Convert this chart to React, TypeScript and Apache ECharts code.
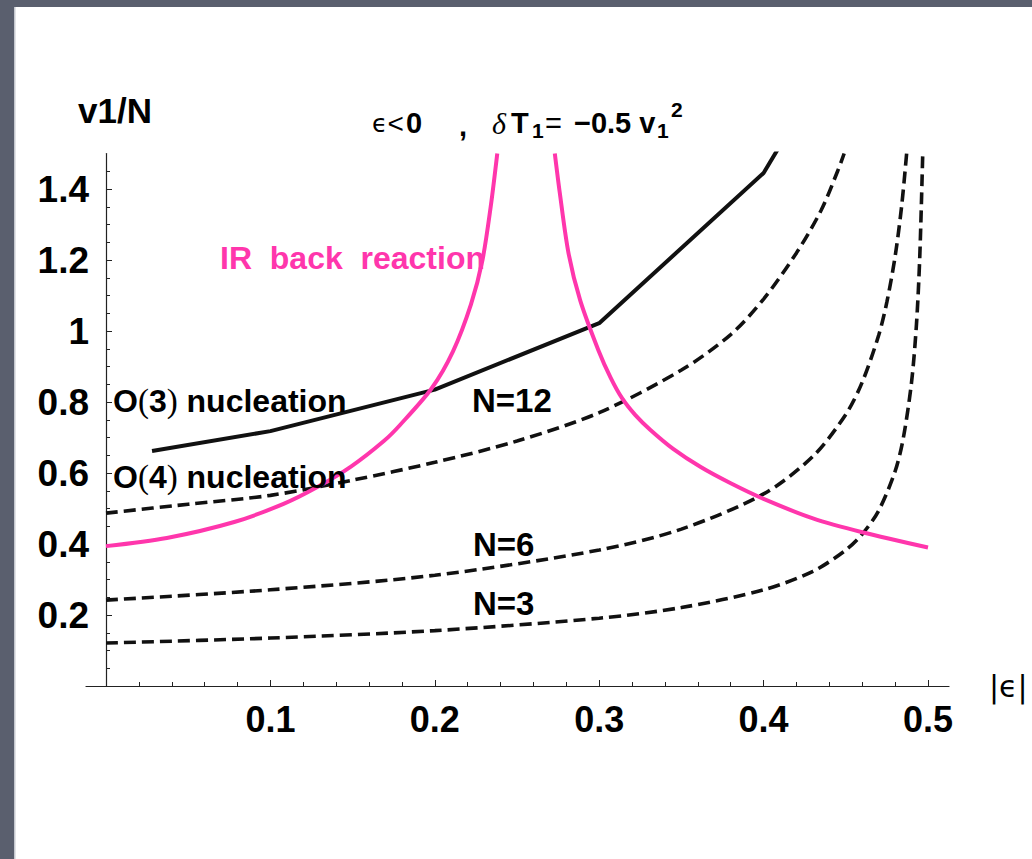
import React, { useEffect, useRef } from 'react';
import * as echarts from 'echarts';

// ---- axis ticks / labels ----
const xMajorTicks = [0, 0.1, 0.2, 0.3, 0.4, 0.5];
const xTickLabels = [0.1, 0.2, 0.3, 0.4, 0.5];
const xMinorTicks = [
  0.02, 0.04, 0.06, 0.08, 0.12, 0.14, 0.16, 0.18, 0.22, 0.24, 0.26, 0.28,
  0.32, 0.34, 0.36, 0.38, 0.42, 0.44, 0.46, 0.48,
];
const yMajorTicks = [0, 0.2, 0.4, 0.6, 0.8, 1, 1.2, 1.4];
const yTickLabels = [0.2, 0.4, 0.6, 0.8, 1, 1.2, 1.4];
const yMinorTicks = [
  0.05, 0.1, 0.15, 0.25, 0.3, 0.35, 0.45, 0.5, 0.55, 0.65, 0.7, 0.75, 0.85,
  0.9, 0.95, 1.05, 1.1, 1.15, 1.25, 1.3, 1.35, 1.45,
];

// ---- IR back reaction (magenta), two branches ----
const irLeftEps = [0, 0.037, 0.078, 0.108, 0.128, 0.149, 0.169, 0.179, 0.198, 0.211, 0.222, 0.229, 0.234, 0.238];
const irLeftVal = [0.394, 0.417, 0.462, 0.513, 0.559, 0.618, 0.69, 0.736, 0.838, 0.942, 1.075, 1.2, 1.35, 1.5];
const irRightEps = [0.273, 0.276, 0.2813, 0.2884, 0.2995, 0.307, 0.314, 0.322, 0.331, 0.345, 0.362, 0.38, 0.4, 0.43, 0.46, 0.5];
const irRightVal = [1.5, 1.39, 1.22, 1.087, 0.946, 0.868, 0.81, 0.763, 0.722, 0.668, 0.616, 0.571, 0.527, 0.472, 0.433, 0.39];

// ---- O(3) nucleation (solid black) ----
const o3Eps = [0.028, 0.1, 0.2, 0.3, 0.4, 0.42];
const o3Val = [0.662, 0.718, 0.835, 1.022, 1.445, 1.6];

// ---- dashed curves N=12, N=6, N=3 ----
const n12Eps = [0, 0.05, 0.1, 0.15, 0.2, 0.25, 0.3, 0.35, 0.38, 0.4, 0.42, 0.435, 0.445, 0.449];
const n12Val = [0.487, 0.512, 0.537, 0.58, 0.63, 0.69, 0.77, 0.89, 0.99, 1.09, 1.22, 1.34, 1.45, 1.5];
const n6Eps = [0, 0.1, 0.2, 0.3, 0.35, 0.4, 0.43, 0.45, 0.46, 0.47, 0.475, 0.48, 0.484, 0.487];
const n6Val = [0.242, 0.271, 0.312, 0.383, 0.442, 0.541, 0.647, 0.765, 0.856, 0.988, 1.082, 1.21, 1.353, 1.5];
const n3Eps = [0, 0.1, 0.2, 0.3, 0.35, 0.4, 0.43, 0.45, 0.46, 0.47, 0.48, 0.485, 0.49, 0.493, 0.495, 0.4968];
const n3Val = [0.121, 0.135, 0.156, 0.191, 0.221, 0.271, 0.323, 0.383, 0.428, 0.494, 0.605, 0.699, 0.856, 1.02, 1.21, 1.5];

const pair = (xs: number[], ys: number[]) => xs.map((x, i) => [x, ys[i]]);

export default function App() {
  const ref = useRef<HTMLDivElement>(null);
  useEffect(() => {
    const chart = echarts.init(ref.current!, null, { renderer: 'svg' });
    const black = '#111111';
    const pink = '#ff36ac';
    const axisColor = '#222222';
    const sans = "'Liberation Sans', Arial, Helvetica, sans-serif";
    const serif = "'Liberation Serif', 'DejaVu Serif', serif";

    const lineSeries = (name: string, data: number[][], color: string, dashed: boolean, smooth: boolean) => ({
      name,
      type: 'line',
      xAxisIndex: 0,
      yAxisIndex: 0,
      data,
      showSymbol: false,
      symbol: 'none',
      smooth: smooth ? 0.3 : false,
      clip: true,
      lineStyle: { color, width: dashed ? 3.6 : 4, type: dashed ? [12, 6] : 'solid', cap: 'butt' },
      z: 3,
    });

    const label = (text: string, x: number, y: number, size: number, color: string, extra: any = {}) => ({
      type: 'text',
      x,
      y,
      z: 10,
      style: {
        text,
        fill: color,
        fontSize: size,
        fontWeight: 'bold',
        fontFamily: sans,
        align: 'left',
        verticalAlign: 'middle',
        ...extra,
      },
    });

    const nucleation = (digit: string, x: number, y: number) => ({
      type: 'text',
      x,
      y,
      z: 10,
      style: {
        text: `{a|O}{p|(}{a|${digit}}{p|)}{a| nucleation}`,
        align: 'left',
        verticalAlign: 'middle',
        rich: {
          a: { fontSize: 32, fontWeight: 'bold', fontFamily: sans, fill: '#000' },
          p: { fontSize: 33, fontFamily: serif, fill: '#000' },
        },
      },
    });

    const option: any = {
      animation: false,
      backgroundColor: '#ffffff',
      grid: [
        { left: 106, top: 153.5, width: 822, height: 532.5 },
        { left: 86, top: 153.5, width: 863, height: 532.5 },
      ],
      xAxis: [
        {
          type: 'value', gridIndex: 0, min: 0, max: 0.5, position: 'bottom',
          axisLine: { show: false },
          splitLine: { show: false },
          axisTick: { show: true, inside: true, length: 6, customValues: xMajorTicks, lineStyle: { color: axisColor, width: 1 } },
          axisLabel: {
            show: true, customValues: xTickLabels, margin: 15,
            fontSize: 36, fontWeight: 'bold', fontFamily: sans, color: '#000',
          },
        },
        {
          type: 'value', gridIndex: 0, min: 0, max: 0.5, position: 'bottom',
          axisLine: { show: false },
          splitLine: { show: false },
          axisTick: { show: true, inside: true, length: 4, customValues: xMinorTicks, lineStyle: { color: axisColor, width: 1 } },
          axisLabel: { show: false },
        },
        {
          type: 'value', gridIndex: 1, min: 0, max: 1, position: 'bottom',
          axisLine: { show: true, onZero: false, lineStyle: { color: axisColor, width: 1.2 } },
          axisTick: { show: false },
          axisLabel: { show: false },
          splitLine: { show: false },
        },
      ],
      yAxis: [
        {
          type: 'value', gridIndex: 0, min: 0, max: 1.5, position: 'left',
          axisLine: { show: true, onZero: false, lineStyle: { color: axisColor, width: 1.2 } },
          splitLine: { show: false },
          axisTick: { show: true, inside: true, length: 6, customValues: yMajorTicks, lineStyle: { color: axisColor, width: 1 } },
          axisLabel: {
            show: true, customValues: yTickLabels, margin: 17,
            fontSize: 37, fontWeight: 'bold', fontFamily: sans, color: '#000',
          },
        },
        {
          type: 'value', gridIndex: 0, min: 0, max: 1.5, position: 'left',
          axisLine: { show: false },
          splitLine: { show: false },
          axisTick: { show: true, inside: true, length: 4, customValues: yMinorTicks, lineStyle: { color: axisColor, width: 1 } },
          axisLabel: { show: false },
        },
        {
          type: 'value', gridIndex: 1, min: 0, max: 1, show: false,
        },
      ],
      series: [
        lineSeries('N=3', pair(n3Eps, n3Val), black, true, true),
        lineSeries('N=6', pair(n6Eps, n6Val), black, true, true),
        lineSeries('N=12', pair(n12Eps, n12Val), black, true, true),
        lineSeries('O(3) nucleation', pair(o3Eps, o3Val), black, false, false),
        lineSeries('IR back reaction (left)', pair(irLeftEps, irLeftVal), pink, false, true),
        lineSeries('IR back reaction (right)', pair(irRightEps, irRightVal), pink, false, true),
      ],
      graphic: [
        // slide frame
        { type: 'rect', z: 20, shape: { x: 0, y: 0, width: 14, height: 859 }, style: { fill: '#5a5f6e' } },
        { type: 'rect', z: 20, shape: { x: 0, y: 0, width: 1032, height: 7 }, style: { fill: '#5a5f6e' } },
        { type: 'rect', z: 20, shape: { x: 14, y: 7, width: 1.5, height: 852 }, style: { fill: '#c5c8cf' } },
        // axis names
        label('v1/N', 78, 110, 35, '#000'),
        {
          type: 'text', x: 989, y: 686, z: 10,
          style: { text: '|ϵ|', fill: '#000', fontSize: 30, fontFamily: "'DejaVu Sans', sans-serif", align: 'left', verticalAlign: 'middle' },
        },
        // title:  ϵ<0 , δT1 = −0.5 v1^2
        {
          type: 'text', x: 372, y: 123, z: 10,
          style: {
            text: '{e|ϵ}{l|<}',
            align: 'left',
            verticalAlign: 'middle',
            rich: {
              e: { fontSize: 25, fontFamily: "'DejaVu Sans', sans-serif", fill: '#000' },
              l: { fontSize: 28, fontFamily: sans, fill: '#000' },
            },
          },
        },
        label('0', 406, 123, 29, '#000'),
        label(',', 459, 126, 29, '#000'),
        label('δ', 492, 123, 30, '#000', { fontWeight: 'normal', fontStyle: 'italic', fontFamily: serif }),
        label('T', 511, 123, 29, '#000'),
        label('1', 532, 130, 21, '#000'),
        label('=', 545, 123, 29, '#000', { fontWeight: 'normal' }),
        label('−0.5 v', 574, 123, 29, '#000'),
        label('1', 657, 130, 21, '#000'),
        label('2', 671, 109, 21, '#000'),
        // curve labels
        label('IR  back  reaction', 220, 258, 32, pink),
        nucleation('3', 113, 401),
        nucleation('4', 113, 477),
        label('N=12', 472, 400, 33, '#000'),
        label('N=6', 473, 544, 33, '#000'),
        label('N=3', 473, 603, 33, '#000'),
      ],
    };
    chart.setOption(option);
    return () => chart.dispose();
  }, []);
  return <div ref={ref} style={{ position: 'absolute', left: 0, top: 0, width: 1032, height: 859 }} />;
}
